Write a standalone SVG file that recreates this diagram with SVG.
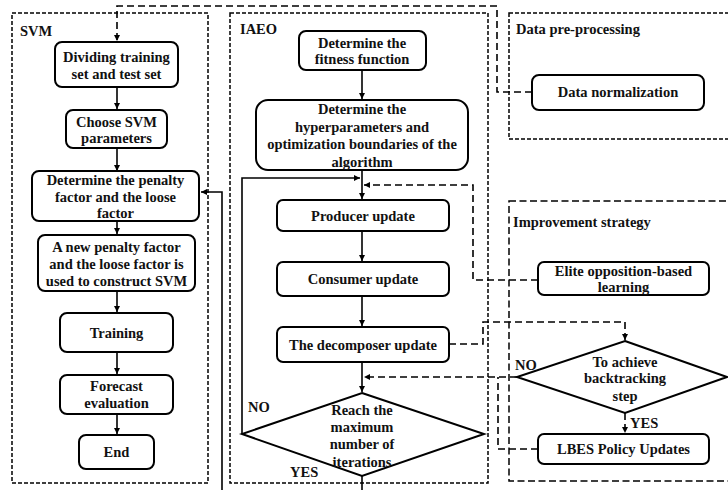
<svg xmlns="http://www.w3.org/2000/svg" width="728" height="490" viewBox="0 0 728 490" font-family="Liberation Serif, Times New Roman, DejaVu Serif, serif">
<defs>
<marker id="ah" viewBox="0 0 10 10" refX="10" refY="5" markerWidth="6" markerHeight="6" markerUnits="userSpaceOnUse" orient="auto">
<path d="M0,0 L10,5 L0,10 z" fill="#000"/>
</marker>
<style>
text{font-family:'Liberation Serif','Times New Roman','DejaVu Serif',serif;font-weight:bold;font-size:14.5px;fill:#111}
.c{text-anchor:middle}
.box{fill:#fff;stroke:#000;stroke-width:2}
.cont{fill:none;stroke:#000;stroke-width:1.5;stroke-dasharray:4 2}
.cont2{fill:none;stroke:#000;stroke-width:1.5;stroke-dasharray:7 3.5}
.ln{fill:none;stroke:#000;stroke-width:1.6}
.dl{fill:none;stroke:#000;stroke-width:1.6;stroke-dasharray:7 4}
</style>
</defs>
<rect width="728" height="490" fill="#fff"/>

<g id="containers">
<rect id="svm-group" class="cont" x="12" y="13" width="196" height="470"/>
<rect id="iaeo-group" class="cont" x="230" y="13" width="258" height="470"/>
<rect id="pre-group" class="cont" x="509" y="13" width="230" height="126"/>
<rect id="imp-group" class="cont2" x="509" y="201" width="230" height="280"/>
<text x="20" y="36">SVM</text>
<text x="240" y="34">IAEO</text>
<text x="516" y="34">Data pre-processing</text>
<text x="513" y="227">Improvement strategy</text>
</g>

<g id="connectors">
<path class="ln" d="M117 87V109" marker-end="url(#ah)"/>
<path class="ln" d="M117 148V171" marker-end="url(#ah)"/>
<path class="ln" d="M117 221V234" marker-end="url(#ah)"/>
<path class="ln" d="M117 291V312" marker-end="url(#ah)"/>
<path class="ln" d="M117 352V374" marker-end="url(#ah)"/>
<path class="ln" d="M117 414V434" marker-end="url(#ah)"/>
<path class="ln" d="M362 70V99" marker-end="url(#ah)"/>
<path class="ln" d="M362 170V199" marker-end="url(#ah)"/>
<path class="ln" d="M362 231V261" marker-end="url(#ah)"/>
<path class="ln" d="M362 296V326" marker-end="url(#ah)"/>
<path class="ln" d="M362 362V392" marker-end="url(#ah)"/>
<path class="ln" d="M242 434V178H360" marker-end="url(#ah)"/>
<path class="ln" d="M362 476V496H222V192H201" marker-end="url(#ah)"/>
<path class="dl" d="M532 92H497V6H117V41" marker-end="url(#ah)"/>
<path class="dl" d="M538 280H473V185H364" marker-end="url(#ah)"/>
<path class="dl" d="M449 344H483V322H625V340" marker-end="url(#ah)"/>
<path class="dl" d="M517 377H364" marker-end="url(#ah)"/>
<path class="dl" d="M538 449H498V377"/>
<path class="dl" d="M625 413V433" marker-end="url(#ah)"/>
</g>

<g id="n-divide"><rect class="box" x="55" y="42" width="123" height="45" rx="7"/>
<text class="c" x="116.5" y="62">Dividing training</text><text class="c" x="116.5" y="79">set and test set</text></g>
<g id="n-choose"><rect class="box" x="66" y="110" width="101" height="38" rx="7"/>
<text class="c" x="116.5" y="127">Choose SVM</text><text class="c" x="116.5" y="143">parameters</text></g>
<g id="n-penalty"><rect class="box" x="32" y="171" width="167" height="50" rx="7"/>
<text class="c" x="115.5" y="185">Determine the penalty</text><text class="c" x="115.5" y="202">factor and the loose</text><text class="c" x="115.5" y="218">factor</text></g>
<g id="n-new"><rect class="box" x="38" y="235" width="157" height="56" rx="7"/>
<text class="c" x="116.5" y="252">A new penalty factor</text><text class="c" x="116.5" y="269">and the loose factor is</text><text class="c" x="116.5" y="286">used to construct SVM</text></g>
<g id="n-train"><rect class="box" x="60" y="313" width="113" height="39" rx="7"/>
<text class="c" x="116.5" y="338">Training</text></g>
<g id="n-forecast"><rect class="box" x="60" y="375" width="113" height="39" rx="7"/>
<text class="c" x="116.5" y="391">Forecast</text><text class="c" x="116.5" y="408">evaluation</text></g>
<g id="n-end"><rect class="box" x="79" y="435" width="75" height="34" rx="7"/>
<text class="c" x="116.5" y="457">End</text></g>

<g id="n-fitness"><rect class="box" x="299" y="31" width="127" height="39" rx="7"/>
<text class="c" x="362" y="48">Determine the</text><text class="c" x="362" y="64">fitness function</text></g>
<g id="n-hyper"><rect class="box" x="256" y="100" width="212" height="70" rx="12"/>
<text class="c" x="362" y="114">Determine the</text><text class="c" x="362" y="132">hyperparameters and</text><text class="c" x="362" y="149">optimization boundaries of the</text><text class="c" x="362" y="167">algorithm</text></g>
<g id="n-producer"><rect class="box" x="277" y="200" width="172" height="31" rx="6"/>
<text class="c" x="363" y="221">Producer update</text></g>
<g id="n-consumer"><rect class="box" x="277" y="262" width="172" height="34" rx="6"/>
<text class="c" x="363" y="284">Consumer update</text></g>
<g id="n-decomposer"><rect class="box" x="277" y="327" width="172" height="35" rx="6"/>
<text class="c" x="363" y="350">The decomposer update</text></g>
<g id="n-maxiter"><polygon class="box" points="362,393 484,434 362,476 242,434"/>
<text class="c" x="362" y="415">Reach the</text><text class="c" x="362" y="432">maximum</text><text class="c" x="362" y="449">number of</text><text class="c" x="362" y="467">iterations</text>
<text x="248" y="412">NO</text><text x="290" y="477">YES</text></g>

<g id="n-norm"><rect class="box" x="532" y="75" width="172" height="35" rx="7"/>
<text class="c" x="618" y="97">Data normalization</text></g>
<g id="n-elite"><rect class="box" x="538" y="262" width="171" height="33" rx="6"/>
<text class="c" x="623.5" y="276">Elite opposition-based</text><text class="c" x="623.5" y="292">learning</text></g>
<g id="n-backtrack"><polygon class="box" points="625,341 727,377 625,413 517,377"/>
<text class="c" x="625" y="367">To achieve</text><text class="c" x="625" y="383">backtracking</text><text class="c" x="625" y="401">step</text>
<text x="515" y="370">NO</text><text x="630" y="428">YES</text></g>
<g id="n-lbes"><rect class="box" x="538" y="434" width="171" height="30" rx="6"/>
<text class="c" x="623.5" y="454">LBES Policy Updates</text></g>
</svg>
